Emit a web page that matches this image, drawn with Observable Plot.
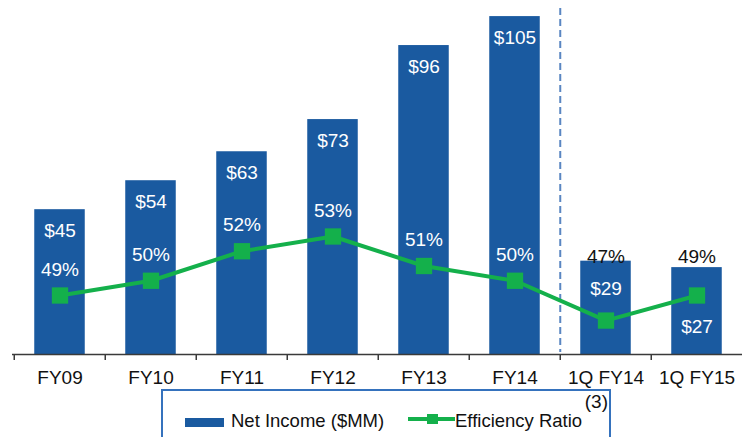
<!DOCTYPE html>
<html>
<head>
<meta charset="utf-8">
<script src="https://cdn.jsdelivr.net/npm/d3@7"></script>
<script src="https://cdn.jsdelivr.net/npm/@observablehq/plot@0.6"></script>
<style>
  body { margin: 0; background: #fff; font-family: "Liberation Sans", Arial, sans-serif; }
  #wrap { position: relative; width: 742px; height: 437px; overflow: hidden; }
  #chart svg { display: block; }
  #legend { position: absolute; left: 161px; top: 389px; width: 450px; height: 70px;
            border: 2px solid #3572bd; box-sizing: border-box; color: #111; }
  #legend .item { position: absolute; font-size: 18.5px; line-height: 20px; white-space: nowrap; }
  #legend .note { position: absolute; font-size: 19px; line-height: 20px; white-space: nowrap; }
  #legend .sw { position: absolute; }
</style>
</head>
<body>
<div id="wrap">
  <div id="chart"></div>
  <div id="legend"></div>
</div>
<script>
// ---- data ----
const periods = ["FY09", "FY10", "FY11", "FY12", "FY13", "FY14", "1Q FY14", "1Q FY15"];
const netIncome = [45, 54, 63, 73, 96, 105, 29, 27];              // $MM
const efficiencyRatio = [49, 50, 52, 53, 51, 50, 47.3, 49];       // %
const quarterly = [false, false, false, false, false, false, true, true];
const legendLabels = ["Net Income ($MM)", "Efficiency Ratio"];
const legendNote = "(3)";

// ---- styling ----
const BLUE = "#1a5aa0";
const GREEN = "#14b04b";
const FONT = "Liberation Sans, Arial, sans-serif";

const rows = periods.map((p, i) => ({
  period: p, income: netIncome[i], ratio: efficiencyRatio[i], q: quarterly[i]
}));

// secondary (ratio) axis mapped onto the income axis
const incomeDomain = [0, 110];
const ratioToIncome = d3.scaleLinear([45, 69], incomeDomain);
rows.forEach(d => { d.ry = ratioToIncome(d.ratio); });

const annual = rows.filter(d => !d.q);
const qtr = rows.filter(d => d.q);
const qTop = d3.max(qtr, d => d.income);
// quarterly income label goes below the marker when the marker would collide with it
const qAbove = qtr.filter(d => !(d.ry > d.income - 10));
const qBelow = qtr.filter(d => d.ry > d.income - 10);

const W = 742, H = 389, ML = 12, MB = 35;
const step = (744 - ML) / periods.length;

const chart = Plot.plot({
  width: W,
  height: H,
  marginLeft: ML,
  marginRight: 0,
  marginTop: 0,
  marginBottom: MB,
  style: { fontFamily: FONT, background: "transparent" },
  x: { domain: periods, range: [ML, 744], padding: 0, label: null },
  y: { domain: incomeDomain, axis: null },
  marks: [
    Plot.barY(rows, { x: "period", y: "income", fill: BLUE, insetLeft: 20.25, insetRight: 20.25 }),
    Plot.ruleX(["1Q FY14"], { x: d => d, dx: -step / 2, insetTop: 8, insetBottom: 2,
      stroke: "#5a86c2", strokeWidth: 2, strokeDasharray: "7,4" }),
    Plot.ruleY([0], { stroke: "#3a3a3a", strokeWidth: 1.5 }),
    Plot.ruleX(periods, { x: d => d, dx: -step / 2, y1: 0, y2: 0, insetBottom: -6,
      stroke: "#3a3a3a", strokeWidth: 1.5 }),
    Plot.axisX({ tickSize: 0, tickPadding: 16, fontSize: 19, fill: "#111", label: null }),
    Plot.line(rows, { x: "period", y: "ry", stroke: GREEN, strokeWidth: 4 }),
    Plot.dot(rows, { x: "period", y: "ry", symbol: "square", r: 9.2, fill: GREEN, stroke: "none" }),
    // labels inside annual bars
    Plot.text(annual, { x: "period", y: "income", text: d => "$" + d.income, dy: 21,
      fill: "white", fontSize: 19 }),
    Plot.text(annual, { x: "period", y: "ry", text: d => Math.round(d.ratio) + "%", dy: -26,
      fill: "white", fontSize: 19 }),
    // quarterly labels
    Plot.text(qtr, { x: "period", y: () => qTop, text: d => Math.round(d.ratio) + "%",
      lineAnchor: "bottom", dy: 2, fill: "#111", fontSize: 19 }),
    Plot.text(qAbove, { x: "period", y: "income", text: d => "$" + d.income, dy: 28,
      fill: "white", fontSize: 19 }),
    Plot.text(qBelow, { x: "period", y: "ry", text: d => "$" + d.income, dy: 31,
      fill: "white", fontSize: 19 })
  ]
});
document.getElementById("chart").appendChild(chart);

// ---- legend ----
const lg = document.getElementById("legend");
lg.innerHTML = `
  <div class="sw" style="left:22px;top:27px;width:39px;height:9px;background:${BLUE}"></div>
  <div class="item" style="left:68px;top:20px">${legendLabels[0]}</div>
  <div class="sw" style="left:245px;top:26px;width:47px;height:4px;background:${GREEN}"></div>
  <div class="sw" style="left:264px;top:23px;width:11px;height:10px;background:${GREEN}"></div>
  <div class="item" style="left:292px;top:20px">${legendLabels[1]}</div>
  <div class="note" style="right:1px;top:1px">${legendNote}</div>
`;
</script>
</body>
</html>
